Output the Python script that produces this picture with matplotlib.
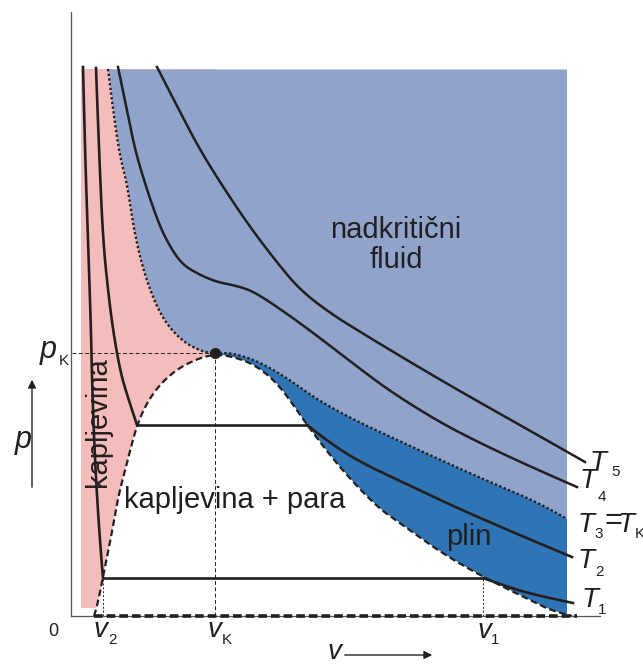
import matplotlib
matplotlib.use("Agg")
import matplotlib.pyplot as plt
from matplotlib.path import Path
import numpy as np

plt.rcParams['font.family'] = ['Liberation Sans', 'DejaVu Sans']

TXT = '#231f20'
PINK = '#f4bdbb'
LIGHT_BLUE = '#8fa3cb'
DARK_BLUE = '#2f75b5'

# critical point
v_crit, p_crit = 2.86, 5.26

# saturation dome (left branch bottom -> critical -> right branch bottom)
dome_v = [0.44, 0.50, 0.62, 0.76, 0.92, 1.10, 1.30, 1.56, 1.90, 2.30, 2.86,
          3.46, 3.86, 4.22, 4.70, 5.36, 6.10, 6.56, 7.36, 8.22, 9.16, 9.60, 10.0]
dome_p = [0.00, 0.18, 0.78, 1.46, 2.38, 3.06, 3.84, 4.38, 4.78, 5.06, 5.26,
          5.12, 4.88, 4.52, 3.82, 2.96, 2.18, 1.86, 1.28, 0.78, 0.32, 0.10, 0.00]

# critical isotherm T3 = TK
tk_v = [0.72, 0.82, 0.96, 1.10, 1.26, 1.50, 1.82, 2.22, 2.62, 2.86,
        3.22, 3.76, 4.36, 4.82, 5.56, 6.50, 8.16, 9.36, 9.90]
tk_p = [10.94, 10.12, 9.18, 8.66, 7.58, 6.66, 5.92, 5.48, 5.28, 5.26,
        5.26, 5.08, 4.72, 4.38, 3.96, 3.52, 2.76, 2.26, 1.94]

# isotherm T1 (liquid part, two-phase line, gas part)
t1_v = [0.22, 0.26, 0.32, 0.38, 0.40, 0.46, 0.56, 0.62, 8.22, 8.56, 9.16, 10.02]
t1_p = [10.98, 9.32, 7.52, 5.72, 4.72, 3.06, 1.46, 0.76, 0.76, 0.64, 0.44, 0.26]

# isotherm T2
t2_v = [0.48, 0.54, 0.62, 0.72, 0.82, 0.96, 1.10, 1.30, 4.70, 5.16, 5.76, 6.56, 8.22, 10.0]
t2_p = [10.96, 9.32, 7.52, 6.52, 5.72, 4.92, 4.42, 3.82, 3.82, 3.46, 3.08, 2.70, 1.92, 1.18]

# isotherm T4
t4_v = [0.92, 1.10, 1.26, 1.50, 1.76, 2.00, 2.22, 2.56, 2.90, 3.22, 3.56,
        3.90, 4.56, 5.22, 6.50, 8.16, 10.10]
t4_p = [10.98, 10.12, 9.32, 8.52, 7.78, 7.32, 7.02, 6.82, 6.68, 6.62, 6.52,
        6.32, 5.86, 5.36, 4.38, 3.42, 2.58]

# isotherm T5
t5_v = [1.70, 2.16, 2.56, 3.06, 3.56, 4.06, 4.56, 5.16, 5.70, 6.76, 7.82, 8.96, 10.26]
t5_p = [10.98, 10.08, 9.32, 8.52, 7.78, 7.12, 6.52, 6.06, 5.72, 5.08, 4.46, 3.82, 3.08]

# coloured area limits
v_left, v_right = 0.18, 9.90
p_bottom, p_top = 0.16, 10.94

# ends of the horizontal (two-phase) lines
v2, v1 = 0.62, 8.22
p_t1 = 0.76


def smooth(vs, ps):
    # quadratic bezier through the midpoints, the read points act as controls
    pts = np.column_stack([vs, ps])
    if len(pts) < 3:
        return pts
    verts = [pts[0]]
    codes = [Path.MOVETO]
    for i in range(1, len(pts) - 1):
        end = pts[i + 1] if i == len(pts) - 2 else (pts[i] + pts[i + 1]) / 2
        verts += [pts[i], end]
        codes += [Path.CURVE3, Path.CURVE3]
    out = [pts[:1]]
    t = np.linspace(0, 1, 16)[1:]
    for seg, _ in Path(verts, codes).iter_bezier():
        out.append(seg(t))
    return np.vstack(out)


def pieces(vs, ps, cuts):
    idx = [0] + cuts + [len(vs) - 1]
    return [smooth(vs[a:b + 1], ps[a:b + 1]) for a, b in zip(idx[:-1], idx[1:])]


dome = smooth(dome_v, dome_p)
tk = smooth(tk_v, tk_p)

fig = plt.figure(figsize=(6.43, 6.64), dpi=100)
ax = fig.add_axes([0, 0, 1, 1])
ax.set_xlim(-1.44, 11.42)
ax.set_ylim(-0.96, 12.32)

# regions
ax.fill_between([v_left, v_crit], p_bottom, p_top, color=PINK, lw=0)
ax.fill_between(tk[:, 0], tk[:, 1], p_top, color=LIGHT_BLUE, lw=0)
tk_r = tk[tk[:, 0] >= v_crit]
dome_r = dome[dome[:, 0] >= v_crit]
blue = np.vstack([tk_r, [[v_right, p_bottom]], dome_r[::-1]])
ax.fill(blue[:, 0], blue[:, 1], color=DARK_BLUE, lw=0)
ax.fill(dome[:, 0], dome[:, 1], color='white', lw=0)
ax.fill_between([v_right, 10.6], -0.1, p_top, color='white', lw=0)

# helper lines
ax.plot([0, v_crit], [p_crit, p_crit], color=TXT, lw=0.7, ls=(0, (4, 2.5)))
ax.plot([v_crit, v_crit], [0, p_crit], color=TXT, lw=0.7, ls=(0, (4, 2.5)))
ax.plot([v2, v2], [0, p_t1], color=TXT, lw=0.7, ls=(0, (2, 2)))
ax.plot([v1, v1], [0, p_t1], color=TXT, lw=0.7, ls=(0, (2, 2)))

# isotherms
for seg in pieces(t1_v, t1_p, [7, 8]) + pieces(t2_v, t2_p, [7, 8]):
    ax.plot(seg[:, 0], seg[:, 1], color=TXT, lw=1.9)
for vv, pp in [(t4_v, t4_p), (t5_v, t5_p)]:
    seg = smooth(vv, pp)
    ax.plot(seg[:, 0], seg[:, 1], color=TXT, lw=1.8)
ax.plot(tk[:, 0], tk[:, 1], color=TXT, lw=1.7, ls=(0, (1, 1)))

# saturation dome and bottom
ax.plot(dome[:, 0], dome[:, 1], color=TXT, lw=1.6, ls=(0, (3, 1.6)))
ax.plot([0.44, 10.1], [0, 0], color=TXT, lw=2.6, ls=(0, (2.4, 1.1)), zorder=3)
ax.plot([v_crit], [p_crit], 'o', color=TXT, ms=7, zorder=4)

# axes
for s in ['top', 'right']:
    ax.spines[s].set_visible(False)
ax.spines['left'].set_position(('data', -0.02))
ax.spines['bottom'].set_position(('data', 0))
ax.spines['left'].set_bounds(0, 12.08)
ax.spines['bottom'].set_bounds(-0.02, 10.56)
for s in ['left', 'bottom']:
    ax.spines[s].set_color('#555555')
    ax.spines[s].set_linewidth(0.9)
ax.set_xticks([])
ax.set_yticks([])
ax.patch.set_visible(False)

# axis arrows
ax.annotate('', xy=(7.26, -0.78), xytext=(5.4, -0.78),
            arrowprops=dict(arrowstyle='-|>', color=TXT, lw=1.0, mutation_scale=12),
            annotation_clip=False)
ax.annotate('', xy=(-0.8, 4.78), xytext=(-0.8, 2.52),
            arrowprops=dict(arrowstyle='-|>', color=TXT, lw=1.0, mutation_scale=12),
            annotation_clip=False)

it = dict(color=TXT, fontstyle='italic', va='baseline', ha='left')
sb = dict(color=TXT, fontsize=11, va='baseline', ha='left')

# region labels
ax.text(6.48, 7.42, 'nadkritični\nfluid', fontsize=21, color=TXT,
        ha='center', va='center', linespacing=1.05)
ax.text(3.26, 2.32, 'kapljevina + para', fontsize=21, color=TXT,
        ha='center', va='center')
ax.text(0.52, 3.88, 'kapljevina', fontsize=21, color=TXT,
        ha='center', va='center', rotation=90)
ax.text(7.94, 1.58, 'plin', fontsize=21, color=TXT, ha='center', va='center')

# isotherm labels
ax.text(10.36, 2.92, 'T', fontsize=20, **it)
ax.text(10.78, 2.80, '5', **sb)
ax.text(10.16, 2.56, 'T', fontsize=20, **it)
ax.text(10.52, 2.30, '4', **sb)
ax.text(10.10, 1.68, 'T', fontsize=20, **it)
ax.text(10.44, 1.56, '3', **sb)
ax.text(10.64, 1.90, '=', fontsize=22, color=TXT, va='center', ha='left')
ax.text(10.92, 1.68, 'T', fontsize=20, **it)
ax.text(11.26, 1.56, 'K', **sb)
ax.text(10.10, 0.96, 'T', fontsize=20, **it)
ax.text(10.46, 0.80, '2', **sb)
ax.text(10.18, 0.18, 'T', fontsize=20, **it)
ax.text(10.52, 0.04, '1', **sb)

# axis labels
ax.text(-0.38, -0.30, '0', fontsize=13, color=TXT, ha='center', va='center')
ax.text(0.42, -0.42, 'v', fontsize=20, **it)
ax.text(0.72, -0.56, '2', **sb)
ax.text(2.70, -0.42, 'v', fontsize=20, **it)
ax.text(3.00, -0.56, 'K', **sb)
ax.text(8.10, -0.44, 'v', fontsize=20, **it)
ax.text(8.38, -0.56, '1', **sb)
ax.text(5.10, -0.86, 'v', fontsize=20, **it)
ax.text(-0.64, 5.16, 'p', fontsize=22, **it)
ax.text(-0.26, 5.02, 'K', **sb)
ax.text(-1.14, 3.36, 'p', fontsize=22, **it)

fig.savefig('out.png', dpi=100)
